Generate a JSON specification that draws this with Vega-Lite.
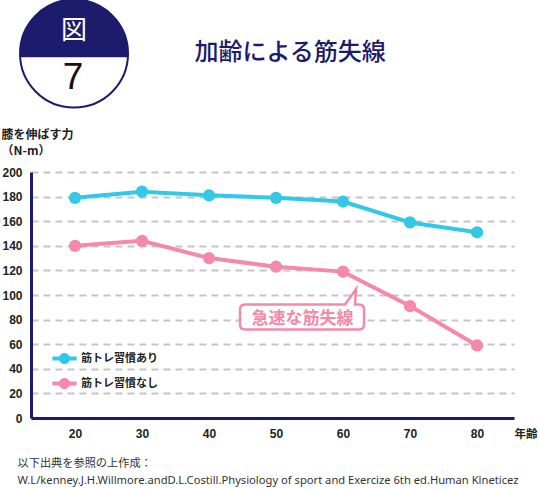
{
  "$schema": "https://vega.github.io/schema/vega-lite/v6.json",
  "width": 483,
  "height": 246,
  "autosize": {"type": "none"},
  "padding": {"left": 31, "top": 172, "right": 24, "bottom": 71},
  "background": "white",
  "config": {
    "view": {"stroke": null},
    "font": "Noto Sans CJK JP",
    "axis": {"labelOverlap": false}
  },
  "datasets": {
    "strength": [
      {"group": "筋トレ習慣あり", "age": 20, "force": 179},
      {"group": "筋トレ習慣あり", "age": 30, "force": 184},
      {"group": "筋トレ習慣あり", "age": 40, "force": 181},
      {"group": "筋トレ習慣あり", "age": 50, "force": 179},
      {"group": "筋トレ習慣あり", "age": 60, "force": 176},
      {"group": "筋トレ習慣あり", "age": 70, "force": 159},
      {"group": "筋トレ習慣あり", "age": 80, "force": 151},
      {"group": "筋トレ習慣なし", "age": 20, "force": 140},
      {"group": "筋トレ習慣なし", "age": 30, "force": 144},
      {"group": "筋トレ習慣なし", "age": 40, "force": 130},
      {"group": "筋トレ習慣なし", "age": 50, "force": 123},
      {"group": "筋トレ習慣なし", "age": 60, "force": 119},
      {"group": "筋トレ習慣なし", "age": 70, "force": 91},
      {"group": "筋トレ習慣なし", "age": 80, "force": 59}
    ],
    "notes": [
      {"id": "header", "text": "加齢による筋失線"},
      {"id": "fig", "text": "図"},
      {"id": "num", "text": "7"},
      {"id": "callout", "text": "急速な筋失線"}
    ]
  },
  "layer": [
    {
      "data": {"name": "strength"},
      "mark": {
        "type": "line",
        "strokeWidth": 4,
        "point": {"filled": true, "size": 150, "opacity": 1}
      },
      "encoding": {
        "x": {
          "field": "age",
          "type": "quantitative",
          "scale": {"domain": [13.43, 85.52], "nice": false, "zero": false},
          "axis": {
            "values": [20, 30, 40, 50, 60, 70, 80, 85.52],
            "tickCount": 20,
            "labelExpr": "datum.value > 85 ? '年齢' : datum.label",
            "labelFont": "'Liberation Sans', 'Noto Sans CJK JP'",
            "labelFontSize": {"condition": {"test": "datum.value > 85", "value": 11.5}, "value": 12},
            "labelFontWeight": "bold",
            "labelColor": "#222222",
            "labelPadding": 10,
            "labelFlush": false,
            "labelOverlap": false,
            "labelAlign": {"condition": {"test": "datum.value > 85", "value": "left"}, "value": "center"},
            "ticks": false,
            "grid": false,
            "domainColor": "#1d1b6b",
            "domainWidth": 3,
            "title": [
              "以下出典を参照の上作成：",
              "W.L/kenney.J.H.Willmore.andD.L.Costill.Physiology of sport and Exercize 6th ed.Human Klneticez"
            ],
            "titleFont": "'Noto Sans', 'Noto Sans CJK JP'",
            "titleFontSize": 11.2,
            "titleFontWeight": "normal",
            "titleColor": "#333333",
            "titleAngle": 0,
            "titleAlign": "left",
            "titleBaseline": "top",
            "titleLineHeight": 17,
            "titleX": -14,
            "titleY": 39
          }
        },
        "y": {
          "field": "force",
          "type": "quantitative",
          "scale": {"domain": [0, 200], "nice": false},
          "axis": {
            "values": [0, 20, 40, 60, 80, 100, 120, 140, 160, 180, 200],
            "tickCount": 20,
            "labelFont": "'Liberation Sans', 'Noto Sans CJK JP'",
            "labelFontSize": 12,
            "labelFontWeight": "bold",
            "labelColor": "#222222",
            "labelPadding": 9,
            "labelOverlap": false,
            "ticks": false,
            "grid": true,
            "gridColor": "#c6c6c6",
            "gridWidth": 2,
            "gridDash": [7, 5],
            "domainColor": "#1d1b6b",
            "domainWidth": 3,
            "title": ["膝を伸ばす力", "（N-m）"],
            "titleFontSize": 12,
            "titleFontWeight": "bold",
            "titleColor": "#222222",
            "titleAngle": 0,
            "titleAlign": "left",
            "titleBaseline": "top",
            "titleLineHeight": 16,
            "titleX": -30,
            "titleY": -43
          }
        },
        "color": {
          "field": "group",
          "type": "nominal",
          "scale": {
            "domain": ["筋トレ習慣あり", "筋トレ習慣なし"],
            "range": ["#33c7e8", "#f589a9"]
          },
          "legend": {
            "title": null,
            "orient": "none",
            "legendX": 28,
            "legendY": 181,
            "padding": 0,
            "symbolType": "M -2.2 -0.36 L 2.2 -0.36 L 2.2 0.36 L -2.2 0.36 Z M -1 0 A 1 1 0 0 1 1 0 A 1 1 0 0 1 -1 0 Z",
            "symbolSize": 121,
            "labelOffset": 11,
            "rowPadding": 13,
            "labelFontSize": 11,
            "labelFontWeight": "bold",
            "labelColor": "#222222",
            "encode": {
              "symbols": {
                "update": {
                  "fill": {"scale": "color", "field": "value"},
                  "stroke": {"value": "transparent"},
                  "strokeWidth": {"value": 0},
                  "opacity": {"value": 1}
                }
              }
            }
          }
        }
      }
    },
    {
      "data": {"name": "notes"},
      "transform": [{"filter": "datum.id == 'fig'"}],
      "mark": {
        "type": "point",
        "shape": "circle",
        "size": 11664,
        "filled": true,
        "fill": "white",
        "stroke": "#1d1b6b",
        "strokeWidth": 2,
        "opacity": 1
      },
      "encoding": {
        "x": {"datum": 19.85, "type": "quantitative"},
        "y": {"datum": 296.3, "type": "quantitative"}
      }
    },
    {
      "data": {"name": "notes"},
      "transform": [{"filter": "datum.id == 'fig'"}],
      "mark": {
        "type": "point",
        "shape": "M -0.9975 0.07 A 1 1 0 1 1 0.9975 0.07 Z",
        "size": 11664,
        "filled": true,
        "fill": "#1d1b6b",
        "strokeWidth": 0,
        "opacity": 1
      },
      "encoding": {
        "x": {"datum": 19.85, "type": "quantitative"},
        "y": {"datum": 296.3, "type": "quantitative"}
      }
    },
    {
      "data": {"name": "notes"},
      "transform": [{"filter": "datum.id == 'fig'"}],
      "mark": {"type": "text", "fontSize": 26, "color": "white"},
      "encoding": {
        "x": {"datum": 19.85, "type": "quantitative"},
        "y": {"datum": 315, "type": "quantitative"},
        "text": {"field": "text"}
      }
    },
    {
      "data": {"name": "notes"},
      "transform": [{"filter": "datum.id == 'num'"}],
      "mark": {"type": "text", "fontSize": 37, "font": "Liberation Sans", "color": "#111111"},
      "encoding": {
        "x": {"datum": 19.7, "type": "quantitative"},
        "y": {"datum": 276.2, "type": "quantitative"},
        "text": {"field": "text"}
      }
    },
    {
      "data": {"name": "notes"},
      "transform": [{"filter": "datum.id == 'header'"}],
      "mark": {"type": "text", "fontSize": 24, "fontWeight": 500, "color": "#1d1b6b"},
      "encoding": {
        "x": {"datum": 52.09, "type": "quantitative"},
        "y": {"datum": 296.7, "type": "quantitative"},
        "text": {"field": "text"}
      }
    },
    {
      "data": {"name": "notes"},
      "transform": [{"filter": "datum.id == 'callout'"}],
      "mark": {
        "type": "point",
        "shape": "M -5.7 -1.25 L 4.3 -1.25 L 5.4 -2.8 L 5.3 -1.25 L 5.7 -1.25 Q 6.2 -1.25 6.2 -0.75 L 6.2 0.75 Q 6.2 1.25 5.7 1.25 L -5.7 1.25 Q -6.2 1.25 -6.2 0.75 L -6.2 -0.75 Q -6.2 -1.25 -5.7 -1.25 Z",
        "size": 400,
        "filled": true,
        "fill": "white",
        "stroke": "#f589a9",
        "strokeWidth": 2.5,
        "opacity": 1
      },
      "encoding": {
        "x": {"datum": 53.88, "type": "quantitative"},
        "y": {"datum": 82.1, "type": "quantitative"}
      }
    },
    {
      "data": {"name": "notes"},
      "transform": [{"filter": "datum.id == 'callout'"}],
      "mark": {"type": "text", "fontSize": 17, "fontWeight": "bold", "color": "#f589a9"},
      "encoding": {
        "x": {"datum": 53.96, "type": "quantitative"},
        "y": {"datum": 80.5, "type": "quantitative"},
        "text": {"field": "text"}
      }
    }
  ]
}
